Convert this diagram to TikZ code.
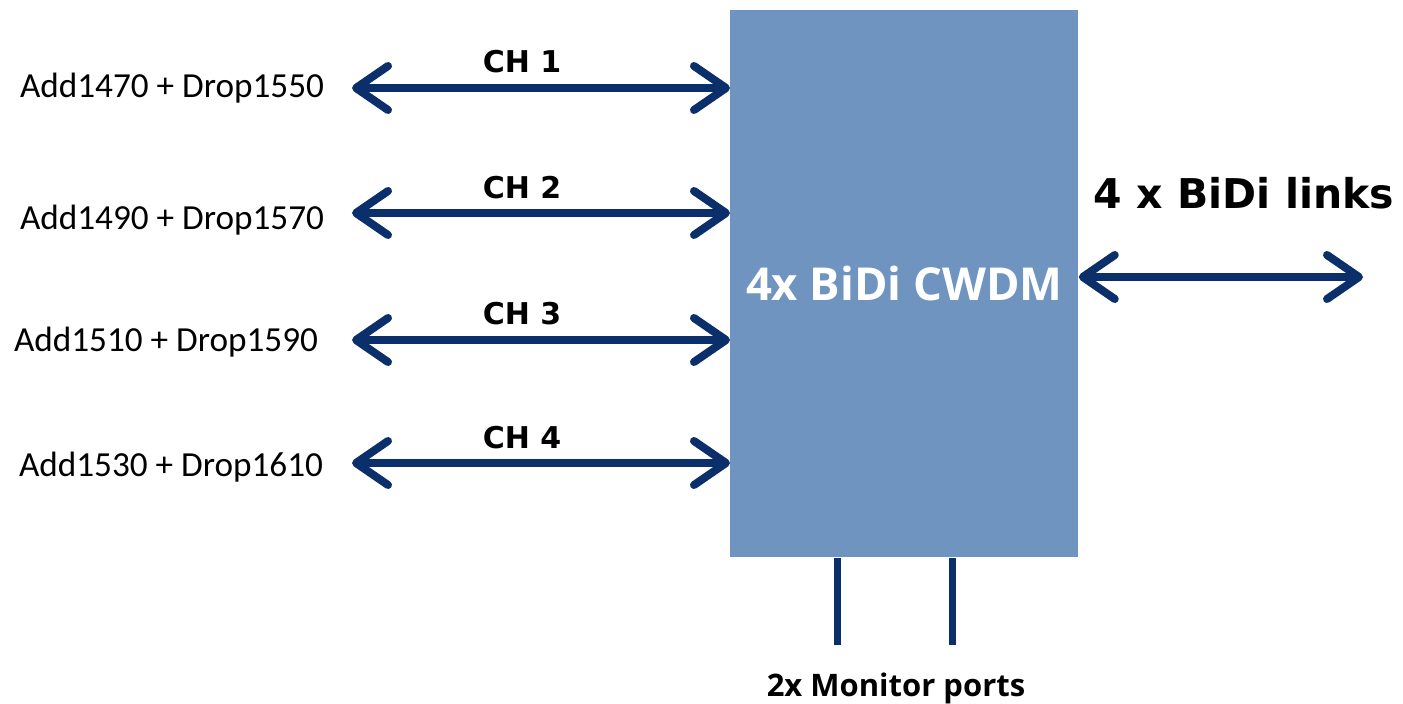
\documentclass[tikz,border=0pt]{standalone}
\usepackage{fontspec}
\setmainfont{Carlito}
\newfontfamily\vfont{DejaVu Sans}
\newfontfamily\ofont{Open Sans}
\usetikzlibrary{arrows.meta}
\definecolor{navy}{HTML}{0B2F6B}
\definecolor{boxblue}{HTML}{7094C0}
\tikzset{
  tipx/.tip={Straight Barb[length=16pt,width=22pt,line cap=round,line join=round]},
  arr/.style={draw=navy, line width=4pt, tipx-tipx},
  port/.style={draw=navy, line width=3.5pt},
  lbl/.style={font=\fontsize{17.6pt}{21pt}\selectfont, inner sep=0pt},
  chl/.style={font=\vfont\bfseries\fontsize{15pt}{18pt}\selectfont, inner sep=0pt},
}
\begin{document}
\begin{tikzpicture}[x=0.5pt,y=-0.5pt]
\useasboundingbox (0,0) rectangle (1403,703);
\node[fill=boxblue, minimum width=174pt, minimum height=273.5pt, inner sep=0pt, anchor=north west,
  text=white, font=\ofont\bfseries\fontsize{22.7pt}{27pt}\selectfont] (box) at (730,10) {4x BiDi CWDM};
\node[lbl] (l1) at (172,88) {Add1470 + Drop1550};
\node[lbl] (l2) at (172,220) {Add1490 + Drop1570};
\node[lbl] (l3) at (166,342) {Add1510 + Drop1590};
\node[lbl] (l4) at (171,467) {Add1530 + Drop1610};
\coordinate (a1) at (352,88);
\coordinate (a2) at (352,213);
\coordinate (a3) at (352,340);
\coordinate (a4) at (352,463);
\draw[arr] (a1) -- (a1 -| box.west);
\draw[arr] (a2) -- (a2 -| box.west);
\draw[arr] (a3) -- (a3 -| box.west);
\draw[arr] (a4) -- (a4 -| box.west);
\node[chl] (c1) at (522,62) {CH 1};
\node[chl] (c2) at (522,188) {CH 2};
\node[chl] (c3) at (522,314) {CH 3};
\node[chl] (c4) at (522,438) {CH 4};
\coordinate (r1) at (1363,277);
\draw[arr] (r1 -| box.east) -- (r1);
\node[font=\vfont\bfseries\fontsize{20.5pt}{24pt}\selectfont, inner sep=0pt] (links) at (1244,193) {4 x BiDi links};
\coordinate (m1) at (837,645);
\coordinate (m2) at (952,645);
\draw[port] (m1 |- box.south) -- (m1);
\draw[port] (m2 |- box.south) -- (m2);
\node[font=\ofont\bfseries\fontsize{15.5pt}{18pt}\selectfont, inner sep=0pt] (mon) at (896,688) {2x Monitor ports};
\end{tikzpicture}
\end{document}
